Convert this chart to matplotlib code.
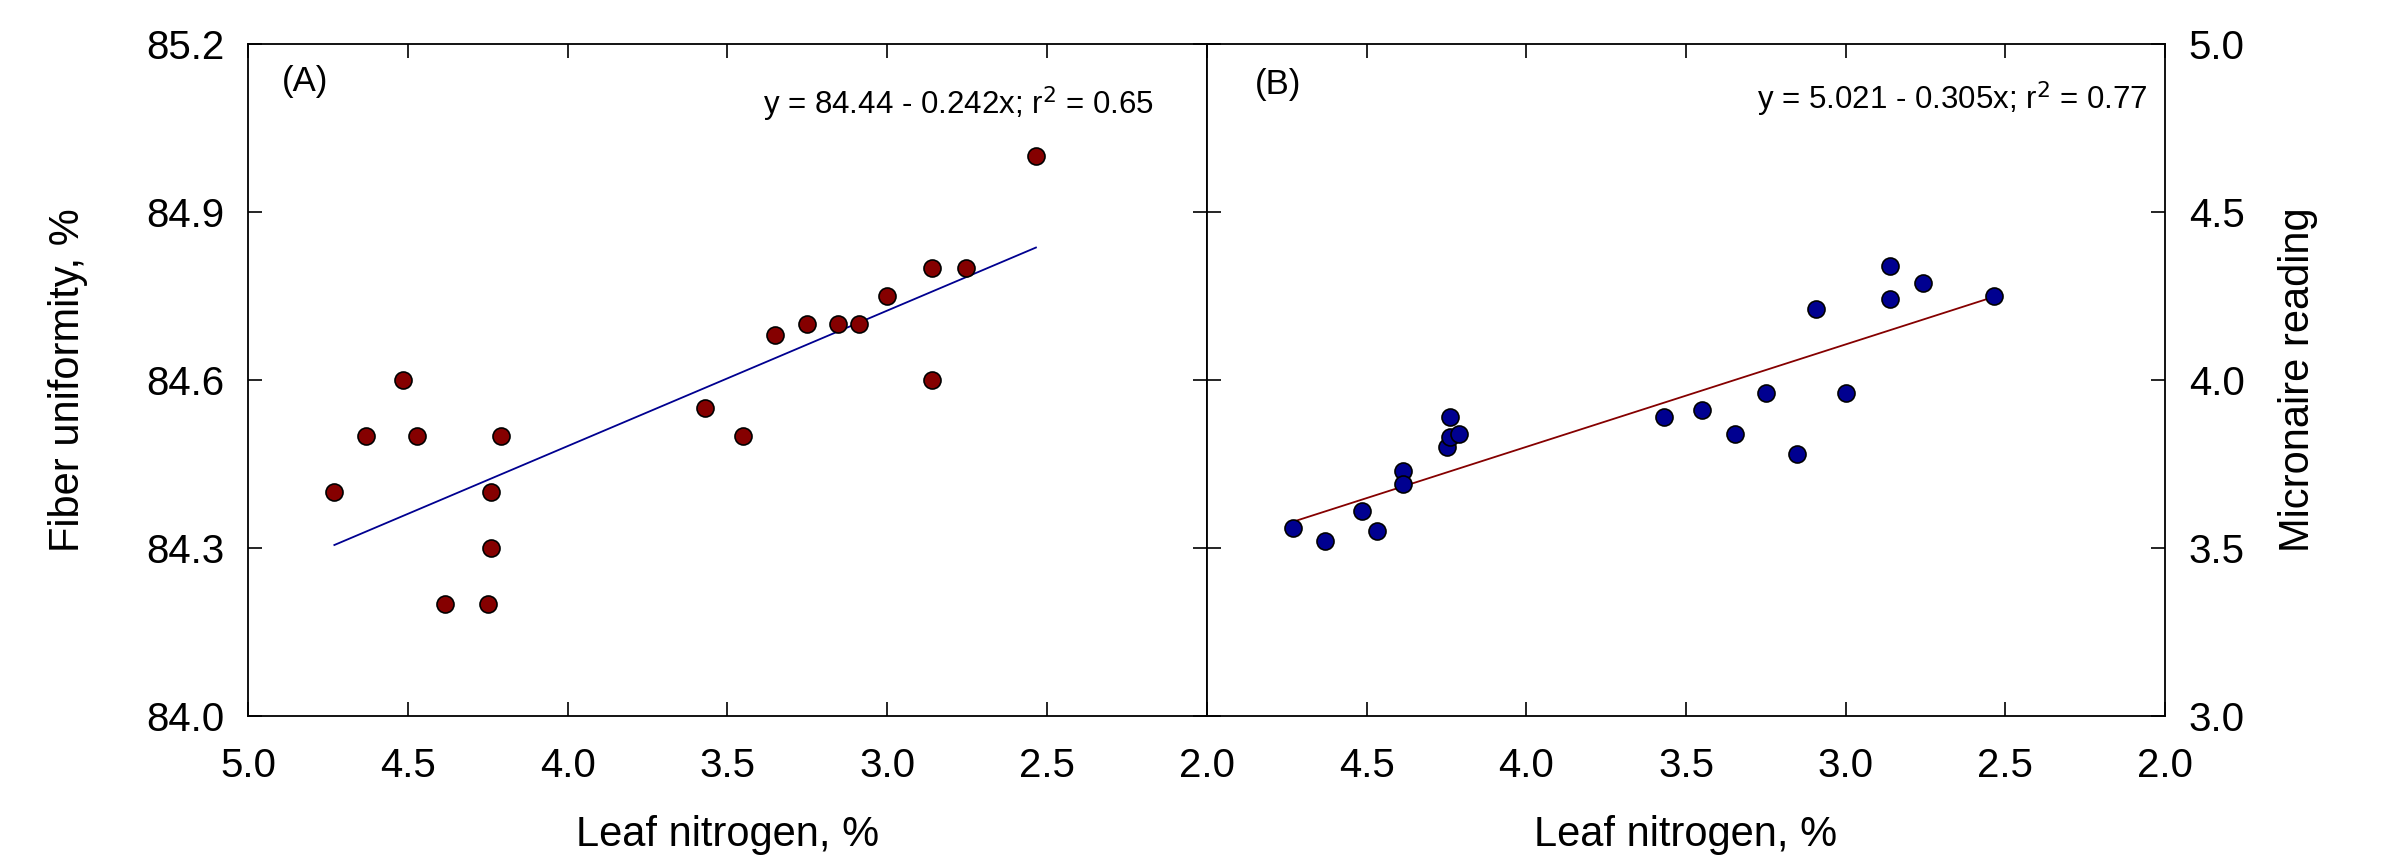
import numpy as np
import matplotlib
matplotlib.use('Agg')
import matplotlib.pyplot as plt

plt.rcParams['font.family'] = ['Liberation Sans', 'DejaVu Sans']

# (A) leaf N vs fiber uniformity
n_a = [4.73, 4.63, 4.515, 4.47, 4.385, 4.25, 4.24, 4.24, 4.21, 3.57, 3.45,
       3.35, 3.25, 3.155, 3.09, 3.0, 2.86, 2.86, 2.755, 2.535]
unif = [84.4, 84.5, 84.6, 84.5, 84.2, 84.2, 84.3, 84.4, 84.5, 84.55, 84.5,
        84.68, 84.7, 84.7, 84.7, 84.75, 84.8, 84.6, 84.8, 85.0]
fit_a = [85.45, -0.242]      # drawn line (intercept, slope) as in the figure
eq_a = 'y = 84.44 - 0.242x; r$^2$ = 0.65'

# (B) leaf N vs micronaire
n_b = [4.73, 4.63, 4.513, 4.467, 4.386, 4.386, 4.248, 4.238, 4.238, 4.21, 3.57,
       3.45, 3.348, 3.25, 3.152, 3.093, 3.0, 2.861, 2.861, 2.757, 2.536]
mic = [3.56, 3.52, 3.61, 3.55, 3.73, 3.69, 3.80, 3.83, 3.89, 3.84, 3.89,
       3.91, 3.84, 3.96, 3.78, 4.21, 3.96, 4.34, 4.24, 4.29, 4.25]
fit_b = [5.021, -0.305]
eq_b = 'y = 5.021 - 0.305x; r$^2$ = 0.77'

x_ticks = [5.0, 4.5, 4.0, 3.5, 3.0, 2.5, 2.0]
ya_ticks = [84.0, 84.3, 84.6, 84.9, 85.2]
yb_ticks = [3.0, 3.5, 4.0, 4.5, 5.0]

red = '#850000'
blue = '#000090'

fig = plt.figure(figsize=(23.99, 8.61), dpi=100)
axA = fig.add_axes([0.1034, 0.1684, 0.3997, 0.7805])
axB = fig.add_axes([0.5031, 0.1684, 0.3994, 0.7805])

for ax in (axA, axB):
    ax.set_xlim(5.0, 2.0)
    ax.set_xticks(x_ticks)
    ax.tick_params(direction='in', length=10, width=1.2, top=True, right=True,
                   left=True, bottom=True, labelsize=29, pad=17)
    ax.tick_params(axis='x', pad=22)
    for s in ax.spines.values():
        s.set_linewidth(1.3)
    ax.set_xlabel('Leaf nitrogen, %', fontsize=30, labelpad=22)

# panel A
axA.set_ylim(84.0, 85.2)
axA.set_yticks(ya_ticks)
axA.set_xticklabels(['%.1f' % t for t in x_ticks])
axA.set_yticklabels(['%.1f' % t for t in ya_ticks])
xl = np.array([max(n_a), min(n_a)])
axA.plot(xl, fit_a[0] + fit_a[1] * xl, color=blue, lw=1.3, zorder=2)
axA.scatter(n_a, unif, s=150, c=red, edgecolors='black', linewidths=1.2, zorder=3)
axA.set_ylabel('Fiber uniformity, %', fontsize=30, labelpad=42)
axA.text(0.035, 0.93, '(A)', transform=axA.transAxes, fontsize=25, va='baseline')
axA.text(0.945, 0.895, eq_a, transform=axA.transAxes, fontsize=22.5,
         ha='right', va='baseline')

# panel B
axB.set_ylim(3.0, 5.0)
axB.set_yticks(yb_ticks)
axB.yaxis.tick_right()
axB.yaxis.set_label_position('right')
axB.tick_params(axis='y', direction='in', left=True, right=True,
                labelleft=False, labelright=True)
axB.set_xticklabels([''] + ['%.1f' % t for t in x_ticks[1:]])
axB.set_yticklabels(['%.1f' % t for t in yb_ticks])
xl = np.array([max(n_b), min(n_b)])
axB.plot(xl, fit_b[0] + fit_b[1] * xl, color=red, lw=1.3, zorder=2)
axB.scatter(n_b, mic, s=150, c=blue, edgecolors='black', linewidths=1.2, zorder=3)
axB.set_ylabel('Micronaire reading', fontsize=30, labelpad=24)
axB.text(0.05, 0.925, '(B)', transform=axB.transAxes, fontsize=25, va='baseline')
axB.text(0.982, 0.902, eq_b, transform=axB.transAxes, fontsize=22.5,
         ha='right', va='baseline')

fig.savefig('out.png', dpi=100)
